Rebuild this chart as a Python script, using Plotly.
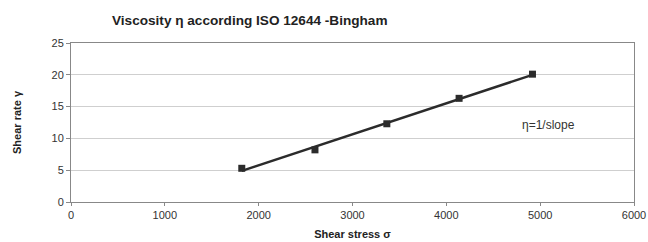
import numpy as np
import plotly.graph_objects as go

# Data
shear_stress = [1820, 2600, 3366, 4136, 4918]
shear_rate = [5.3, 8.2, 12.3, 16.3, 20.1]
x_ticks = [0, 1000, 2000, 3000, 4000, 5000, 6000]
y_ticks = [0, 5, 10, 15, 20, 25]

# Linear trendline (least squares) through the measured points
slope, intercept = np.polyfit(shear_stress, shear_rate, 1)
fit_x = [min(shear_stress), max(shear_stress)]
fit_y = [slope * v + intercept for v in fit_x]

FONT = "Arial, 'Liberation Sans', sans-serif"

W, H = 648, 242

fig = go.Figure()
fig.add_trace(go.Scatter(
    x=fit_x, y=fit_y, mode="lines",
    line=dict(color="#2b2b2b", width=2.5), showlegend=False, hoverinfo="skip"))
fig.add_trace(go.Scatter(
    x=shear_stress, y=shear_rate, mode="markers",
    marker=dict(symbol="square", size=7, color="#2b2b2b"), showlegend=False))

fig.add_annotation(x=5085, y=12.1, text="η=1/slope", showarrow=False,
                   font=dict(family=FONT, size=12, color="#333"))

fig.update_layout(
    width=W, height=H,
    margin=dict(l=71, r=14, t=43, b=40, autoexpand=False),
    paper_bgcolor="white", plot_bgcolor="white",
    font=dict(family=FONT, color="#333"),
    title=dict(text="<b>Viscosity η according ISO 12644 -Bingham</b>",
               x=112 / W, xanchor="left", y=1 - 20 / H, yanchor="middle",
               font=dict(family=FONT, size=13.6, color="#222")),
)
fig.update_xaxes(
    range=[0, 6000], tickvals=x_ticks, ticktext=[str(v) for v in x_ticks],
    showgrid=False, zeroline=False, automargin=False,
    showline=True, linecolor="#888", linewidth=1, mirror=True,
    ticks="outside", ticklen=3, tickcolor="#888",
    tickfont=dict(family=FONT, size=11, color="#333"),
    title=dict(text="<b>Shear stress σ</b>", standoff=10,
               font=dict(family=FONT, size=11, color="#222")),
)
fig.update_yaxes(
    range=[0, 25], tickvals=y_ticks, ticktext=[str(v) for v in y_ticks],
    showgrid=True, gridcolor="#cfcfcf", gridwidth=1, zeroline=False,
    automargin=False,
    showline=True, linecolor="#888", linewidth=1, mirror=True,
    ticks="outside", ticklen=4, tickcolor="#888",
    tickfont=dict(family=FONT, size=11, color="#333"),
    title=dict(text="<b>Shear rate γ</b>", standoff=27,
               font=dict(family=FONT, size=11, color="#222")),
)

fig.write_html(
    "out.html",
    config={"displayModeBar": False},
    post_script="document.body.style.margin='0px';document.body.style.overflow='hidden';",
)
